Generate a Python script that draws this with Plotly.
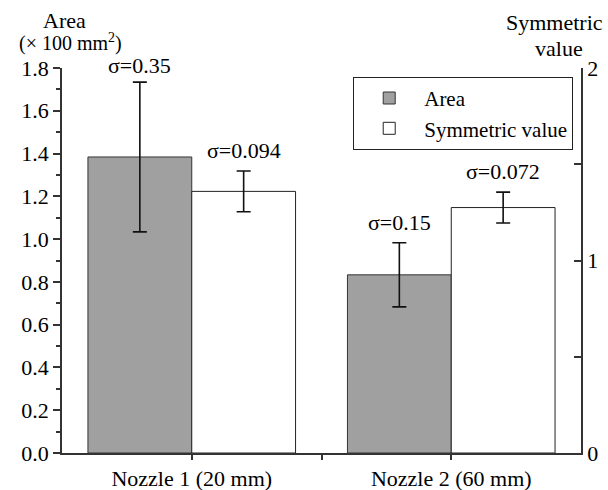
import plotly.graph_objects as go

categories = ["Nozzle 1 (20 mm)", "Nozzle 2 (60 mm)"]
area_values = [1.384, 0.833]
area_errors = [0.35, 0.15]
sym_values = [1.359, 1.275]
sym_errors = [0.106, 0.080]
area_sigma_labels = ["σ=0.35", "σ=0.15"]
sym_sigma_labels = ["σ=0.094", "σ=0.072"]
left_ticks = [0.0, 0.2, 0.4, 0.6, 0.8, 1.0, 1.2, 1.4, 1.6, 1.8]
right_ticks = [0, 1, 2]

FONT = "Liberation Serif"
FS = 22
xpos = list(range(len(categories)))

fig = go.Figure()
fig.add_trace(go.Bar(
    x=xpos, y=area_values, name="Area",
    marker=dict(color="#a0a0a0", line=dict(color="#333333", width=1)),
    error_y=dict(type="data", array=area_errors, color="#111111", thickness=1.6, width=7),
    offsetgroup="a", yaxis="y",
))
fig.add_trace(go.Bar(
    x=xpos, y=sym_values, name="Symmetric value",
    marker=dict(color="white", line=dict(color="#222222", width=1)),
    error_y=dict(type="data", array=sym_errors, color="#111111", thickness=1.6, width=7),
    offsetgroup="b", yaxis="y2",
))

# sigma annotations
for i in xpos:
    fig.add_annotation(x=i - 0.2, y=area_values[i] + area_errors[i], xref="x", yref="y",
                       text=area_sigma_labels[i], showarrow=False, yanchor="bottom",
                       yshift=2 if i == 0 else 6, font=dict(family=FONT, size=FS, color="black"))
    fig.add_annotation(x=i + 0.2, y=sym_values[i] + sym_errors[i], xref="x", yref="y2",
                       text=sym_sigma_labels[i], showarrow=False, yanchor="bottom",
                       yshift=6, font=dict(family=FONT, size=FS, color="black"))

# axis titles
fig.add_annotation(x=0.005, y=1.0, xref="paper", yref="paper", text="Area",
                   showarrow=False, xanchor="center", yanchor="middle", yshift=48,
                   font=dict(family=FONT, size=FS, color="black"))
fig.add_annotation(x=0.017, y=1.0, xref="paper", yref="paper",
                   text="(× 100 mm<sup>2</sup>)",
                   showarrow=False, xanchor="center", yanchor="middle", yshift=26,
                   font=dict(family=FONT, size=20, color="black"))
fig.add_annotation(x=1.046, y=1.0, xref="paper", yref="paper", text="Symmetric",
                   showarrow=False, xanchor="right", yanchor="middle", yshift=46,
                   font=dict(family=FONT, size=FS, color="black"))
fig.add_annotation(x=1.008, y=1.0, xref="paper", yref="paper", text="value",
                   showarrow=False, xanchor="right", yanchor="middle", yshift=20,
                   font=dict(family=FONT, size=FS, color="black"))

fig.update_layout(
    width=608, height=490,
    margin=dict(l=62, r=27, t=68, b=37, autoexpand=False),
    paper_bgcolor="white", plot_bgcolor="white",
    barmode="group", bargap=0.2, bargroupgap=0,
    font=dict(family=FONT, size=FS, color="black"),
    showlegend=True,
    legend=dict(x=0.985, y=0.977, xanchor="right", yanchor="top",
                bordercolor="#222222", borderwidth=1, bgcolor="white",
                font=dict(family=FONT, size=21), tracegroupgap=0, itemwidth=60),
    xaxis=dict(range=[-0.5, 1.5], tickvals=xpos, ticktext=categories, automargin=False,
               showline=True, linecolor="#333333", linewidth=1.5,
               ticks="outside", ticklen=5, tickcolor="#333333", tickwidth=1.5,
               minor=dict(tickvals=[0.5], ticks="outside", ticklen=5, tickcolor="#333333", tickwidth=1.5),
               showgrid=False, zeroline=False, tickfont=dict(family=FONT, size=FS)),
    yaxis=dict(range=[0, 1.8], tickvals=left_ticks, tickformat=".1f", automargin=False,
               showline=True, linecolor="#333333", linewidth=1.5,
               ticks="outside", ticklen=7, tickcolor="#333333", tickwidth=1.5,
               minor=dict(dtick=0.1, ticks="outside", ticklen=4, tickcolor="#333333", tickwidth=1.5),
               showgrid=False, zeroline=False, tickfont=dict(family=FONT, size=FS)),
    yaxis2=dict(range=[0, 2], tickvals=right_ticks, overlaying="y", side="right", automargin=False,
                showline=True, linecolor="#333333", linewidth=1.5,
                ticks="inside", ticklen=7, tickcolor="#333333", tickwidth=1.5,
                minor=dict(dtick=0.5, ticks="inside", ticklen=7, tickcolor="#333333", tickwidth=1.5),
                showgrid=False, zeroline=False, tickfont=dict(family=FONT, size=FS)),
)

fig.write_html("out.html")
